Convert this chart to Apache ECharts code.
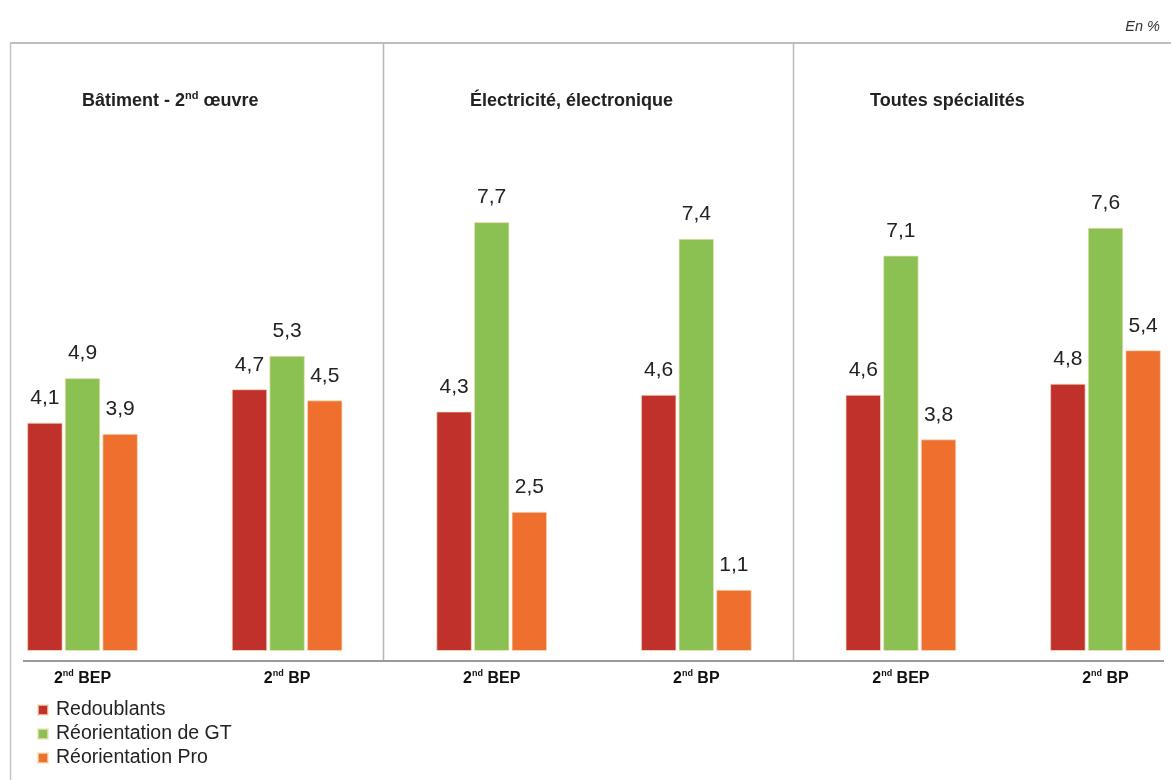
<!DOCTYPE html>
<html><head><meta charset="utf-8">
<script src="https://cdn.jsdelivr.net/npm/echarts@6/dist/echarts.min.js"></script>
<style>html,body{margin:0;padding:0;background:#fff}#c{width:1171px;height:780px}</style>
</head><body><div id="c"></div>
<script>
const categories = ['2nd BEP', '2nd BP', '2nd BEP', '2nd BP', '2nd BEP', '2nd BP'];
const panels = ['Bâtiment - 2nd œuvre', 'Électricité, électronique', 'Toutes spécialités'];
const seriesNames = ['Redoublants', 'Réorientation de GT', 'Réorientation Pro'];
const redoublants = [4.1, 4.7, 4.3, 4.6, 4.6, 4.8];
const reorientGT = [4.9, 5.3, 7.7, 7.4, 7.1, 7.6];
const reorientPro = [3.9, 4.5, 2.5, 1.1, 3.8, 5.4];
const colors = ['#c1312b', '#8bc152', '#ef6f2e'];

const chart = echarts.init(document.getElementById('c'), null, {renderer: 'canvas'});
const fmt = v => String(v).replace('.', ',');
function supRich(txt) {
  const m = txt.match(/^(.*?)2nd(.*)$/);
  if (!m) return '{b|' + txt + '}';
  return (m[1] ? '{b|' + m[1] + '}' : '') + '{b|2}{s|nd}{b|' + m[2] + '}';
}
const FONT = 'Liberation Sans, Arial';
const mkSeries = (name, data, color) => ({
  name, type: 'bar', data, barWidth: 35.5, barGap: '6%',
  itemStyle: {color, borderColor: 'rgba(245,225,190,0.7)', borderWidth: 1},
  label: {show: true, position: 'top', distance: 14, fontFamily: FONT, fontSize: 21, color: '#222', formatter: p => fmt(p.value)}
});
const titleLefts = [77, 465, 865];
chart.setOption({
  animation: false,
  title: panels.map((p, i) => ({
    text: supRich(p), left: titleLefts[i], top: 85,
    textStyle: {rich: {
      b: {fontFamily: FONT, fontWeight: 'bold', fontSize: 18, color: '#222', lineHeight: 22},
      s: {fontFamily: FONT, fontWeight: 'bold', fontSize: 11, color: '#222', verticalAlign: 'top', lineHeight: 14}
    }}
  })),
  legend: {
    orient: 'vertical', left: 32, top: 695, itemWidth: 10, itemHeight: 10, itemGap: 4, icon: 'rect',
    data: seriesNames,
    textStyle: {fontFamily: FONT, fontSize: 19.5, color: '#222', padding: [0, 0, 0, 3]}
  },
  grid: {left: 82.5, right: 65.5, top: 94, bottom: 129},
  xAxis: {
    type: 'category', data: categories, boundaryGap: false,
    axisLine: {show: false}, axisTick: {show: false},
    axisLabel: {margin: 18, formatter: v => supRich(v), rich: {
      b: {fontFamily: FONT, fontWeight: 'bold', fontSize: 16, color: '#111', lineHeight: 20},
      s: {fontFamily: FONT, fontWeight: 'bold', fontSize: 9, color: '#111', verticalAlign: 'top', lineHeight: 12}
    }}
  },
  yAxis: {type: 'value', min: 0, max: 10, show: false, splitLine: {show: false}},
  series: [
    mkSeries(seriesNames[0], redoublants, colors[0]),
    mkSeries(seriesNames[1], reorientGT, colors[1]),
    mkSeries(seriesNames[2], reorientPro, colors[2])
  ],
  graphic: [
    {type: 'line', shape: {x1: 10, y1: 43, x2: 1171, y2: 43}, style: {stroke: '#bdbdbd', lineWidth: 2}},
    {type: 'line', shape: {x1: 10.5, y1: 43, x2: 10.5, y2: 780}, style: {stroke: '#c4c4c4', lineWidth: 1.5}},
    {type: 'line', shape: {x1: 383.5, y1: 43, x2: 383.5, y2: 661}, style: {stroke: '#b8b8b8', lineWidth: 1.5}},
    {type: 'line', shape: {x1: 793.5, y1: 43, x2: 793.5, y2: 661}, style: {stroke: '#b8b8b8', lineWidth: 1.5}},
    {type: 'line', shape: {x1: 23, y1: 661, x2: 1164, y2: 661}, style: {stroke: '#9a9a9a', lineWidth: 2}},
    {type: 'text', right: 11, top: 19, style: {text: 'En %', font: 'italic 14.5px "Liberation Sans", Arial', fill: '#333'}}
  ]
});
</script></body></html>
